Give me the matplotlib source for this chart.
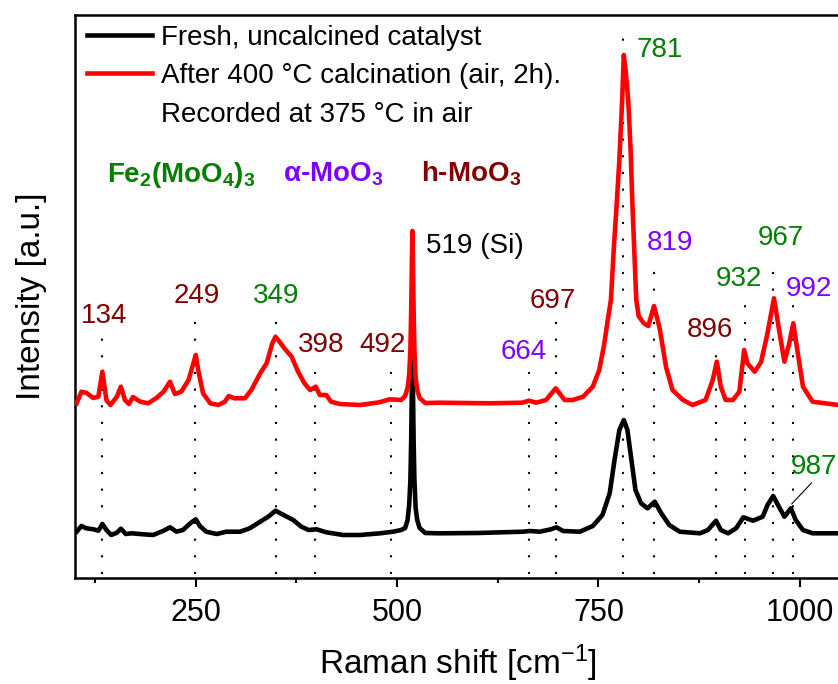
import matplotlib
matplotlib.use("Agg")
import matplotlib.pyplot as plt
from matplotlib.lines import Line2D

plt.rcParams['font.family'] = ['Liberation Sans', 'DejaVu Sans']
plt.rcParams['mathtext.fontset'] = 'custom'
plt.rcParams['mathtext.rm'] = 'Liberation Sans'
plt.rcParams['mathtext.it'] = 'Liberation Sans:italic'
plt.rcParams['mathtext.bf'] = 'Liberation Sans:bold'

# ---- spectra (Raman shift in cm-1, intensity in a.u.) ----
fresh_x = [102, 108, 114, 123, 129, 134, 139, 145, 152, 157, 163, 170, 185, 197,
           210, 218, 226, 234, 244, 250, 255, 263, 276, 288, 305, 317, 330, 340,
           349, 359, 371, 381, 390, 400, 412, 433, 454, 479, 495, 505, 510, 513,
           515, 516.5, 517.5, 518.3, 519, 519.7, 520.5, 521.5, 523, 525, 528, 535,
           553, 600, 656, 665, 677, 691, 698, 706, 727, 743, 755, 764, 770, 776,
           781.5, 786, 791, 796, 803, 811, 820, 828, 838, 851, 876, 886, 896, 902,
           911, 921, 930, 942, 954, 960, 967, 973, 981, 989, 995, 1004, 1016, 1048]
fresh_y = [46.3, 52, 49.7, 48.7, 47.3, 54, 48, 43, 45.3, 49.3, 44, 44.7, 43.7, 43,
           47.3, 50.7, 46.3, 48, 55.3, 58.7, 52, 46.3, 44, 46.3, 46.3, 49.7, 56.3, 61.3,
           67.3, 63, 58, 51.3, 48, 48.7, 45.7, 43, 43, 44.7, 46.3, 48, 50, 58,
           73, 98, 138, 188, 218, 188, 138, 98, 70, 58, 50, 45,
           44.7, 45, 46.3, 47, 46.3, 48.7, 50.7, 47, 46.3, 52, 63, 84.7, 118, 148,
           158, 148, 118, 88, 74.7, 69.7, 76.3, 64.7, 53, 46.3, 44.7, 48, 57.3, 48,
           44.7, 49.7, 60.7, 57.3, 61.3, 73, 82, 73, 61.3, 69.7, 58, 48, 44.7, 44.7]

calc_x = [102, 108, 114.5, 122.7, 129, 134, 139, 144, 152, 157, 162, 167, 172, 181,
          191, 201, 210, 218, 224, 232, 241, 247, 250, 253, 259, 268, 278, 286,
          291, 298, 311, 319, 330, 338, 345, 349, 354, 360, 369, 377, 385, 392,
          399, 404, 412, 418, 429, 454, 478, 491, 505, 510, 513, 515, 516.5,
          517.5, 518.3, 519, 519.7, 520.5, 521.5, 523, 525, 528, 535, 553, 615,
          655, 664, 673, 685, 697, 708, 718, 731, 743, 751, 757, 762, 765.5, 769,
          773, 776, 779.5, 781.5, 784, 787, 790, 792, 795, 797, 800, 806, 812,
          819, 826, 834, 842, 855, 867, 883, 892, 897, 902, 908, 917, 925, 931,
          935, 944, 952, 960, 968, 975, 981, 987, 992, 997, 1004, 1016, 1048]
calc_y = [44.7, 56.3, 55, 50, 51.3, 76.3, 48, 43, 51.3, 61.3, 48, 44, 51, 46.3,
          44.7, 50, 56.3, 66.3, 54, 56.3, 68, 84.7, 93, 78, 54.7, 44.7, 43, 46.3,
          52, 49.7, 49.7, 58, 74.7, 84.7, 104.7, 111.3, 106.3, 99.7, 91.3, 76.3, 64.7, 58,
          61.3, 53, 53, 46.3, 44, 43, 45.7, 48.7, 48, 52, 60, 73, 98,
          138, 183, 217, 183, 138, 98, 70, 58, 50, 45, 45.3, 44.7,
          45.3, 47.3, 45.3, 48, 59.7, 48, 48, 51.3, 61.3, 78, 103, 130, 148, 198,
          248, 288, 348, 393, 376, 348, 298, 248, 188, 148, 132, 125, 122,
          142, 120, 81, 58, 48, 43, 48, 68, 86.3, 61.3, 48, 48, 56.3, 98,
          84.7, 76.3, 86, 115, 149.7, 115, 86.3, 104.7, 124.7, 98, 61.3, 46.3, 43]
calc_offset = 130

# ---- band assignments ----
band_pos = [134, 249, 349, 398, 492, 664, 697, 781, 819, 896, 932, 967, 992]
band_top = [241, 261, 261, 216, 216, 207, 260, 552, 311, 232, 274, 313, 276]

FE = '#008000'      # Fe2(MoO4)3
ALPHA = '#8000FF'   # alpha-MoO3
HEX = '#800000'     # h-MoO3

# label text, x, y, colour, horizontal alignment
band_labels = [
    ("134", 136, 255, HEX, 'center'),
    ("249", 251, 275, HEX, 'center'),
    ("349", 350, 275, FE, 'center'),
    ("398", 406, 226, HEX, 'center'),
    ("492", 482, 226, HEX, 'center'),
    ("519 (Si)", 535.5, 325, 'black', 'left'),
    ("664", 657.7, 219, ALPHA, 'center'),
    ("697", 693, 270, HEX, 'center'),
    ("781", 797.6, 521, FE, 'left'),
    ("819", 839.5, 328, ALPHA, 'center'),
    ("896", 889, 241, HEX, 'center'),
    ("932", 925, 292, FE, 'center'),
    ("967", 977, 333, FE, 'center'),
    ("992", 1012, 282, ALPHA, 'center'),
]

phases = [
    (r"$\mathbf{Fe_2(MoO_4)_3}$", 139.6, 396, FE),
    (r"$\mathbf{\alpha}$-$\mathbf{MoO_3}$", 357.7, 396, ALPHA),
    (r"$\mathbf{h}$-$\mathbf{MoO_3}$", 530, 396, HEX),
]

fig = plt.figure(figsize=(8.38, 6.84), dpi=100)
ax = fig.add_axes([75 / 838, 106 / 684, 765 / 838, 563 / 684])

ax.vlines(band_pos, 4, band_top, colors='black', linestyles=(0, (1, 7)),
          linewidth=1.5, zorder=1)

fresh_line, = ax.plot(fresh_x, fresh_y, color='black', lw=3.3, zorder=3,
                      solid_joinstyle='round')
calc_line, = ax.plot(calc_x, [v + calc_offset for v in calc_y], color='#FF0000',
                     lw=3.3, zorder=3, solid_joinstyle='round')

for txt, x, y, c, ha in band_labels:
    ax.text(x, y, txt, color=c, fontsize=20, ha=ha, va='baseline', zorder=4)

ax.annotate("987", xy=(990, 74), xytext=(1018, 104), color=FE, fontsize=20,
            ha='center', va='baseline',
            arrowprops=dict(arrowstyle='-', color='black', lw=0.8,
                            relpos=(0.5, 0), shrinkA=0, shrinkB=0))

for txt, x, y, c in phases:
    ax.text(x, y, txt, color=c, fontsize=20, ha='left', va='baseline',
            fontweight='bold')

blank = Line2D([], [], color='none')
ax.legend([fresh_line, calc_line, blank],
          ["Fresh, uncalcined catalyst",
           "After 400 \u00b0C calcination (air, 2h).",
           "Recorded at 375 \u00b0C in air"],
          loc='upper left', bbox_to_anchor=(0.0153, 0.983), frameon=False,
          fontsize=20, handlelength=2.34, handletextpad=0.32, borderpad=0,
          borderaxespad=0, labelspacing=0.45)

ax.set_xlim(100, 1050)
ax.set_ylim(0, 563)
ax.set_xticks([250, 500, 750, 1000])
ax.set_xticks([125, 375, 625, 875], minor=True)
ax.set_yticks([])
ax.tick_params(axis='x', which='major', direction='out', length=6.5, width=1.5,
               pad=8, labelsize=22)
ax.tick_params(axis='x', which='minor', direction='out', length=3.6, width=1.5)
for s in ax.spines.values():
    s.set_linewidth(1.8)

ax.set_xlabel(r"Raman shift [cm$^{\mathrm{-1}}$]", fontsize=24, labelpad=10)
ax.set_ylabel("Intensity [a.u.]", fontsize=24, labelpad=20)

fig.savefig("out.png", dpi=100)
